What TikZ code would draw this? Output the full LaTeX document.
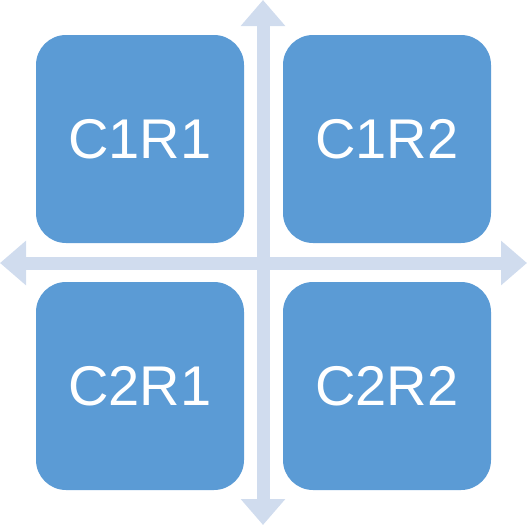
\documentclass[tikz,border=0pt]{standalone}
\usepackage{fontspec}
\setmainfont{Liberation Sans}
\usetikzlibrary{arrows.meta}
\definecolor{boxblue}{HTML}{5B9BD5}
\definecolor{crossblue}{HTML}{D0DCEE}
\begin{document}
\begin{tikzpicture}[x=1pt,y=-1pt,
  quad/.style={fill=boxblue,draw=none,rounded corners=30pt,minimum width=208pt,minimum height=208pt,inner sep=0pt,text=white,font=\fontsize{56}{60}\selectfont},
  axis/.style={draw=crossblue,line width=13pt,{Triangle[length=26pt,width=43pt]}-{Triangle[length=26pt,width=43pt]}}]
\useasboundingbox (0,0) rectangle (527,525);
\coordinate (top) at (263,0);
\coordinate (bottom) at (263,525);
\coordinate (left) at (0,263);
\coordinate (right) at (527,263);
\draw[axis] (top) -- (bottom);
\draw[axis] (left) -- (right);
\node[quad] (c1r1) at (140,139) {C1R1};
\node[quad] (c1r2) at (387,139) {C1R2};
\node[quad] (c2r1) at (140,386) {C2R1};
\node[quad] (c2r2) at (387,386) {C2R2};
\end{tikzpicture}
\end{document}
